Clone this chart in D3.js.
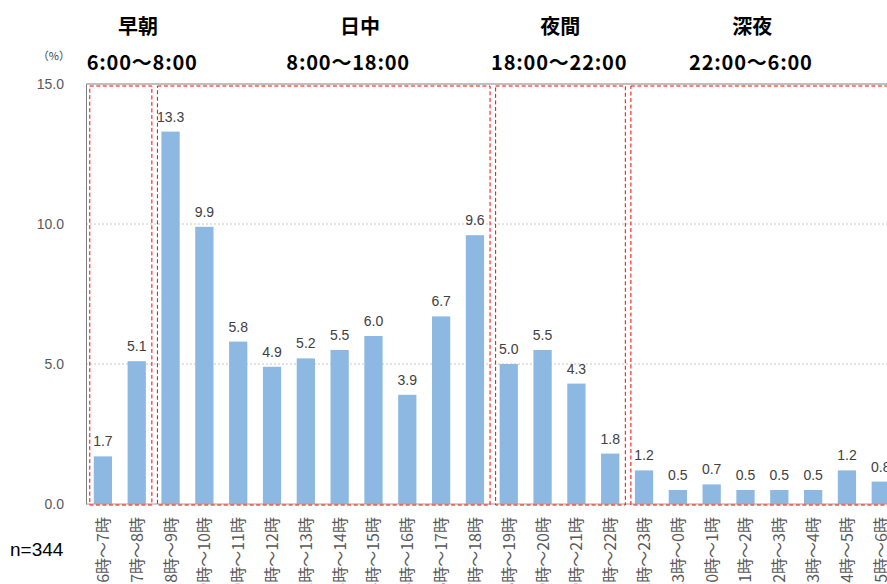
<!DOCTYPE html>
<html>
<head>
<meta charset="utf-8">
<script src="https://cdn.jsdelivr.net/npm/d3@7"></script>
<style>
  html, body { margin: 0; padding: 0; background: #fff; overflow: hidden; }
  #chart { width: 887px; height: 584px; }
  .tick text { font-family: "Liberation Sans", Arial, sans-serif; }
</style>
</head>
<body>
<div id="chart"></div>
<script>
// hour slots, share of respondents (%)
let categories = ["6時〜7時", "7時〜8時", "8時〜9時", "9時〜10時", "10時〜11時", "11時〜12時",
    "12時〜13時", "13時〜14時", "14時〜15時", "15時〜16時", "16時〜17時", "17時〜18時",
    "18時〜19時", "19時〜20時", "20時〜21時", "21時〜22時", "22時〜23時", "23時〜0時",
    "0時〜1時", "1時〜2時", "2時〜3時", "3時〜4時", "4時〜5時", "5時〜6時"];
let values = [1.7, 5.1, 13.3, 9.9, 5.8, 4.9, 5.2, 5.5, 6.0, 3.9, 6.7, 9.6,
    5.0, 5.5, 4.3, 1.8, 1.2, 0.5, 0.7, 0.5, 0.5, 0.5, 1.2, 0.8];
let y_ticks = [0, 5, 10, 15];

// time-of-day groups: name, range label, first and last category index
let group_names = ["早朝", "日中", "夜間", "深夜"];
let group_ranges = ["6:00〜8:00", "8:00〜18:00", "18:00〜22:00", "22:00〜6:00"];
let group_first = [0, 2, 12, 16];
let group_last = [1, 11, 15, 23];

let data = categories.map((c, i) => ({ x: c, y: values[i] }));

let margin = { top: 84, left: 86, bottom: 80 },
    width = 24 * 33.82,
    height = 420;

// header anchors, in category steps from the left of the plot
let name_at = [1.54, 8.1, 14.02, 19.7];
let range_at = [1.66, 7.75, 13.99, 19.66];

var svg = d3.select("#chart")
    .append("svg")
        .attr("width", 887)
        .attr("height", 584)
    .append("g")
        .attr("transform", "translate(" + margin.left + "," + margin.top + ")");

// Scales.
var x_scale = d3.scaleBand()
    .domain(categories)
    .range([0, width])
    .paddingInner(0.46)
    .paddingOuter(0.23);
var y_scale = d3.scaleLinear()
    .domain([0, 15])
    .range([height, 0]);

// Grid lines.
svg.append("g")
    .attr("class", "grid")
    .selectAll("line")
    .data(y_ticks.filter(d => d > 0 && d < 15))
    .enter()
    .append("line")
        .attr("x1", 0)
        .attr("x2", width)
        .attr("y1", d => y_scale(d))
        .attr("y2", d => y_scale(d))
        .attr("stroke", "#b8b8b8")
        .attr("stroke-width", 0.8)
        .attr("stroke-dasharray", "2,2");

// Top border of plot area.
svg.append("line")
    .attr("x1", 0).attr("x2", width)
    .attr("y1", y_scale(15)).attr("y2", y_scale(15))
    .attr("stroke", "#808080")
    .attr("stroke-width", 1);

// Bars.
svg.selectAll(".bar")
    .data(data)
    .enter()
    .append("rect")
        .attr("class", "bar")
        .attr("x", d => x_scale(d.x))
        .attr("y", d => y_scale(d.y))
        .attr("width", x_scale.bandwidth())
        .attr("height", d => height - y_scale(d.y))
        .attr("fill", "#8db8e2");

// Value labels.
svg.selectAll(".label")
    .data(data)
    .enter()
    .append("text")
        .attr("class", "label")
        .attr("x", d => x_scale(d.x) + x_scale.bandwidth() / 2)
        .attr("y", d => y_scale(d.y) - 10)
        .attr("text-anchor", "middle")
        .style("font-family", "Liberation Sans, Arial, sans-serif")
        .style("font-size", "14px")
        .style("fill", "#404040")
        .text(d => d.y.toFixed(1));

// Y axis.
let y_axis = svg.append("g")
    .attr("class", "y_axis")
    .call(d3.axisLeft(y_scale).tickValues(y_ticks).tickFormat(d3.format(".1f")).tickSize(0).tickPadding(22));
y_axis.select(".domain").attr("stroke", "#808080");
y_axis.selectAll("text")
    .style("font-size", "14px")
    .style("fill", "#595959");

// X axis line.
svg.append("line")
    .attr("x1", 0).attr("x2", width)
    .attr("y1", height).attr("y2", height)
    .attr("stroke", "#a0a0a0");

// X axis labels, rotated.
svg.selectAll(".xlabel")
    .data(categories)
    .enter()
    .append("text")
        .attr("class", "xlabel")
        .attr("transform", d => "translate(" + (x_scale(d) + x_scale.bandwidth() / 2 + 6) + "," + (height + 13) + ") rotate(-90)")
        .attr("text-anchor", "end")
        .style("font-family", "Noto Sans CJK JP, sans-serif")
        .style("font-size", "16px")
        .style("fill", "#595959")
        .text(d => d);

// Red dashed group boxes.
svg.selectAll(".group_box")
    .data(group_first)
    .enter()
    .append("rect")
        .attr("class", "group_box")
        .attr("x", (d, i) => x_scale(categories[d]) - 4)
        .attr("y", 2)
        .attr("width", (d, i) => x_scale(categories[group_last[i]]) + x_scale.bandwidth() + 6 - (x_scale(categories[d]) - 4))
        .attr("height", height - 1)
        .attr("fill", "none")
        .attr("stroke", "#ff0000")
        .attr("stroke-width", 1)
        .attr("stroke-dasharray", "4,2.5");

// Group headers.
svg.selectAll(".group_name")
    .data(group_names)
    .enter()
    .append("text")
        .attr("class", "group_name")
        .attr("x", (d, i) => name_at[i] * x_scale.step())
        .attr("y", -50)
        .attr("text-anchor", "middle")
        .style("font-family", "Noto Sans CJK JP, sans-serif")
        .style("font-weight", "bold")
        .style("font-size", "20px")
        .style("fill", "#000")
        .text(d => d);
svg.selectAll(".group_range")
    .data(group_ranges)
    .enter()
    .append("text")
        .attr("class", "group_range")
        .attr("x", (d, i) => range_at[i] * x_scale.step())
        .attr("y", -14)
        .attr("text-anchor", "middle")
        .style("font-family", "Noto Sans CJK JP, sans-serif")
        .style("font-weight", "bold")
        .style("font-size", "20px")
        .style("letter-spacing", "0.8px")
        .style("fill", "#000")
        .text(d => d);

// Units label.
svg.append("text")
    .attr("x", -16)
    .attr("y", -24)
    .attr("text-anchor", "end")
    .style("font-family", "Noto Sans CJK JP, sans-serif")
    .style("font-size", "11px")
    .style("fill", "#404040")
    .text("（%）");

// Sample size.
svg.append("text")
    .attr("x", -76)
    .attr("y", height + 52)
    .style("font-family", "Liberation Sans, Arial, sans-serif")
    .style("font-size", "19px")
    .style("fill", "#000")
    .text("n=344");
</script>
</body>
</html>
